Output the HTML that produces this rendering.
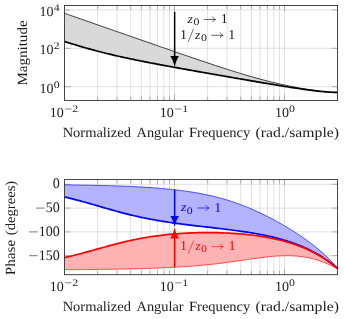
<!DOCTYPE html>
<html><head><meta charset="utf-8"><title>Bode plot</title>
<style>html,body{margin:0;padding:0;background:#fff;}svg{display:block;will-change:transform;opacity:0.999;}text{font-family:"Liberation Serif",serif;}</style>
</head><body>
<svg width="344" height="319" viewBox="0 0 344 319">
<rect width="344" height="319" fill="#fff"/>
<path d="M97.61 5.45V100.4M116.98 5.45V100.4M130.73 5.45V100.4M141.39 5.45V100.4M150.10 5.45V100.4M157.46 5.45V100.4M163.84 5.45V100.4M169.47 5.45V100.4M174.50 5.45V100.4M207.61 5.45V100.4M226.98 5.45V100.4M240.73 5.45V100.4M251.39 5.45V100.4M260.10 5.45V100.4M267.46 5.45V100.4M273.84 5.45V100.4M279.47 5.45V100.4M284.50 5.45V100.4M64.5 86.70H337.6M64.5 48.30H337.6M64.5 9.90H337.6" stroke="#d0d0d0" stroke-width="0.65" fill="none"/>
<path d="M97.61 5.45v3.9M97.61 100.4v-3.9M116.98 5.45v3.9M116.98 100.4v-3.9M130.73 5.45v3.9M130.73 100.4v-3.9M141.39 5.45v3.9M141.39 100.4v-3.9M150.10 5.45v3.9M150.10 100.4v-3.9M157.46 5.45v3.9M157.46 100.4v-3.9M163.84 5.45v3.9M163.84 100.4v-3.9M169.47 5.45v3.9M169.47 100.4v-3.9M174.50 5.45v5.9M174.50 100.4v-5.9M207.61 5.45v3.9M207.61 100.4v-3.9M226.98 5.45v3.9M226.98 100.4v-3.9M240.73 5.45v3.9M240.73 100.4v-3.9M251.39 5.45v3.9M251.39 100.4v-3.9M260.10 5.45v3.9M260.10 100.4v-3.9M267.46 5.45v3.9M267.46 100.4v-3.9M273.84 5.45v3.9M273.84 100.4v-3.9M279.47 5.45v3.9M279.47 100.4v-3.9M284.50 5.45v5.9M284.50 100.4v-5.9M64.5 86.70h5.9M337.6 86.70h-5.9M64.5 48.30h5.9M337.6 48.30h-5.9M64.5 9.90h5.9M337.6 9.90h-5.9" stroke="#777" stroke-width="0.5" fill="none"/>
<path d="M64.50 13.28 L66.46 13.97 L68.43 14.65 L70.39 15.34 L72.36 16.02 L74.32 16.71 L76.29 17.39 L78.25 18.08 L80.22 18.77 L82.18 19.45 L84.15 20.14 L86.11 20.82 L88.08 21.51 L90.04 22.19 L92.01 22.88 L93.97 23.57 L95.94 24.25 L97.90 24.94 L99.87 25.62 L101.83 26.31 L103.79 26.99 L105.76 27.68 L107.72 28.36 L109.69 29.05 L111.65 29.74 L113.62 30.42 L115.58 31.11 L117.55 31.79 L119.51 32.48 L121.48 33.16 L123.44 33.85 L125.41 34.53 L127.37 35.22 L129.34 35.90 L131.30 36.59 L133.27 37.27 L135.23 37.96 L137.20 38.64 L139.16 39.32 L141.13 40.01 L143.09 40.69 L145.05 41.38 L147.02 42.06 L148.98 42.74 L150.95 43.43 L152.91 44.11 L154.88 44.79 L156.84 45.47 L158.81 46.16 L160.77 46.84 L162.74 47.52 L164.70 48.20 L166.67 48.88 L168.63 49.56 L170.60 50.24 L172.56 50.92 L174.53 51.60 L176.49 52.28 L178.46 52.96 L180.42 53.63 L182.38 54.31 L184.35 54.98 L186.31 55.66 L188.28 56.33 L190.24 57.01 L192.21 57.68 L194.17 58.35 L196.14 59.02 L198.10 59.68 L200.07 60.35 L202.03 61.01 L204.00 61.68 L205.96 62.34 L207.93 63.00 L209.89 63.65 L211.86 64.31 L213.82 64.96 L215.79 65.61 L217.75 66.26 L219.72 66.90 L221.68 67.54 L223.64 68.18 L225.61 68.81 L227.57 69.44 L229.54 70.07 L231.50 70.69 L233.47 71.31 L235.43 71.92 L237.40 72.53 L239.36 73.13 L241.33 73.73 L243.29 74.32 L245.26 74.90 L247.22 75.48 L249.19 76.05 L251.15 76.62 L253.12 77.18 L255.08 77.73 L257.05 78.27 L259.01 78.81 L260.97 79.34 L262.94 79.86 L264.90 80.37 L266.87 80.88 L268.83 81.37 L270.80 81.86 L272.76 82.34 L274.73 82.81 L276.69 83.28 L278.66 83.73 L280.62 84.18 L282.59 84.61 L284.55 85.04 L286.52 85.46 L288.48 85.87 L290.45 86.27 L292.41 86.67 L294.38 87.05 L296.34 87.43 L298.31 87.79 L300.27 88.15 L302.23 88.50 L304.20 88.84 L306.16 89.17 L308.13 89.48 L310.09 89.79 L312.06 90.09 L314.02 90.37 L315.99 90.64 L317.95 90.90 L319.92 91.14 L321.88 91.37 L323.85 91.58 L325.81 91.78 L327.78 91.95 L329.74 92.11 L331.71 92.24 L333.67 92.34 L335.64 92.42 L337.60 92.47 L337.60 92.47 L335.64 92.43 L333.67 92.36 L331.71 92.26 L329.74 92.14 L327.78 92.01 L325.81 91.85 L323.85 91.68 L321.88 91.49 L319.92 91.29 L317.95 91.08 L315.99 90.85 L314.02 90.62 L312.06 90.38 L310.09 90.13 L308.13 89.87 L306.16 89.60 L304.20 89.33 L302.23 89.05 L300.27 88.77 L298.31 88.48 L296.34 88.19 L294.38 87.89 L292.41 87.59 L290.45 87.29 L288.48 86.98 L286.52 86.67 L284.55 86.36 L282.59 86.04 L280.62 85.72 L278.66 85.40 L276.69 85.08 L274.73 84.76 L272.76 84.44 L270.80 84.11 L268.83 83.78 L266.87 83.45 L264.90 83.12 L262.94 82.79 L260.97 82.46 L259.01 82.13 L257.05 81.79 L255.08 81.46 L253.12 81.12 L251.15 80.79 L249.19 80.45 L247.22 80.11 L245.26 79.77 L243.29 79.44 L241.33 79.10 L239.36 78.76 L237.40 78.42 L235.43 78.08 L233.47 77.74 L231.50 77.40 L229.54 77.06 L227.57 76.71 L225.61 76.37 L223.64 76.03 L221.68 75.69 L219.72 75.34 L217.75 75.00 L215.79 74.66 L213.82 74.31 L211.86 73.97 L209.89 73.62 L207.93 73.28 L205.96 72.93 L204.00 72.59 L202.03 72.24 L200.07 71.89 L198.10 71.55 L196.14 71.20 L194.17 70.85 L192.21 70.50 L190.24 70.15 L188.28 69.80 L186.31 69.45 L184.35 69.10 L182.38 68.75 L180.42 68.40 L178.46 68.04 L176.49 67.69 L174.53 67.33 L172.56 66.98 L170.60 66.62 L168.63 66.26 L166.67 65.90 L164.70 65.54 L162.74 65.18 L160.77 64.81 L158.81 64.44 L156.84 64.07 L154.88 63.70 L152.91 63.33 L150.95 62.96 L148.98 62.58 L147.02 62.20 L145.05 61.81 L143.09 61.43 L141.13 61.04 L139.16 60.64 L137.20 60.25 L135.23 59.85 L133.27 59.44 L131.30 59.03 L129.34 58.62 L127.37 58.20 L125.41 57.78 L123.44 57.35 L121.48 56.92 L119.51 56.48 L117.55 56.03 L115.58 55.58 L113.62 55.12 L111.65 54.66 L109.69 54.19 L107.72 53.71 L105.76 53.23 L103.79 52.74 L101.83 52.24 L99.87 51.73 L97.90 51.22 L95.94 50.70 L93.97 50.18 L92.01 49.65 L90.04 49.11 L88.08 48.56 L86.11 48.01 L84.15 47.45 L82.18 46.88 L80.22 46.31 L78.25 45.73 L76.29 45.14 L74.32 44.55 L72.36 43.96 L70.39 43.36 L68.43 42.75 L66.46 42.14 L64.50 41.52Z" fill="#d9d9d9"/>
<path d="M64.50 13.28 L66.46 13.97 L68.43 14.65 L70.39 15.34 L72.36 16.02 L74.32 16.71 L76.29 17.39 L78.25 18.08 L80.22 18.77 L82.18 19.45 L84.15 20.14 L86.11 20.82 L88.08 21.51 L90.04 22.19 L92.01 22.88 L93.97 23.57 L95.94 24.25 L97.90 24.94 L99.87 25.62 L101.83 26.31 L103.79 26.99 L105.76 27.68 L107.72 28.36 L109.69 29.05 L111.65 29.74 L113.62 30.42 L115.58 31.11 L117.55 31.79 L119.51 32.48 L121.48 33.16 L123.44 33.85 L125.41 34.53 L127.37 35.22 L129.34 35.90 L131.30 36.59 L133.27 37.27 L135.23 37.96 L137.20 38.64 L139.16 39.32 L141.13 40.01 L143.09 40.69 L145.05 41.38 L147.02 42.06 L148.98 42.74 L150.95 43.43 L152.91 44.11 L154.88 44.79 L156.84 45.47 L158.81 46.16 L160.77 46.84 L162.74 47.52 L164.70 48.20 L166.67 48.88 L168.63 49.56 L170.60 50.24 L172.56 50.92 L174.53 51.60 L176.49 52.28 L178.46 52.96 L180.42 53.63 L182.38 54.31 L184.35 54.98 L186.31 55.66 L188.28 56.33 L190.24 57.01 L192.21 57.68 L194.17 58.35 L196.14 59.02 L198.10 59.68 L200.07 60.35 L202.03 61.01 L204.00 61.68 L205.96 62.34 L207.93 63.00 L209.89 63.65 L211.86 64.31 L213.82 64.96 L215.79 65.61 L217.75 66.26 L219.72 66.90 L221.68 67.54 L223.64 68.18 L225.61 68.81 L227.57 69.44 L229.54 70.07 L231.50 70.69 L233.47 71.31 L235.43 71.92 L237.40 72.53 L239.36 73.13 L241.33 73.73 L243.29 74.32 L245.26 74.90 L247.22 75.48 L249.19 76.05 L251.15 76.62 L253.12 77.18 L255.08 77.73 L257.05 78.27 L259.01 78.81 L260.97 79.34 L262.94 79.86 L264.90 80.37 L266.87 80.88 L268.83 81.37 L270.80 81.86 L272.76 82.34 L274.73 82.81 L276.69 83.28 L278.66 83.73 L280.62 84.18 L282.59 84.61 L284.55 85.04 L286.52 85.46 L288.48 85.87 L290.45 86.27 L292.41 86.67 L294.38 87.05 L296.34 87.43 L298.31 87.79 L300.27 88.15 L302.23 88.50 L304.20 88.84 L306.16 89.17 L308.13 89.48 L310.09 89.79 L312.06 90.09 L314.02 90.37 L315.99 90.64 L317.95 90.90 L319.92 91.14 L321.88 91.37 L323.85 91.58 L325.81 91.78 L327.78 91.95 L329.74 92.11 L331.71 92.24 L333.67 92.34 L335.64 92.42 L337.60 92.47" stroke="#000" stroke-width="0.75" fill="none"/>
<path d="M64.50 41.52 L66.46 42.14 L68.43 42.75 L70.39 43.36 L72.36 43.96 L74.32 44.55 L76.29 45.14 L78.25 45.73 L80.22 46.31 L82.18 46.88 L84.15 47.45 L86.11 48.01 L88.08 48.56 L90.04 49.11 L92.01 49.65 L93.97 50.18 L95.94 50.70 L97.90 51.22 L99.87 51.73 L101.83 52.24 L103.79 52.74 L105.76 53.23 L107.72 53.71 L109.69 54.19 L111.65 54.66 L113.62 55.12 L115.58 55.58 L117.55 56.03 L119.51 56.48 L121.48 56.92 L123.44 57.35 L125.41 57.78 L127.37 58.20 L129.34 58.62 L131.30 59.03 L133.27 59.44 L135.23 59.85 L137.20 60.25 L139.16 60.64 L141.13 61.04 L143.09 61.43 L145.05 61.81 L147.02 62.20 L148.98 62.58 L150.95 62.96 L152.91 63.33 L154.88 63.70 L156.84 64.07 L158.81 64.44 L160.77 64.81 L162.74 65.18 L164.70 65.54 L166.67 65.90 L168.63 66.26 L170.60 66.62 L172.56 66.98 L174.53 67.33 L176.49 67.69 L178.46 68.04 L180.42 68.40 L182.38 68.75 L184.35 69.10 L186.31 69.45 L188.28 69.80 L190.24 70.15 L192.21 70.50 L194.17 70.85 L196.14 71.20 L198.10 71.55 L200.07 71.89 L202.03 72.24 L204.00 72.59 L205.96 72.93 L207.93 73.28 L209.89 73.62 L211.86 73.97 L213.82 74.31 L215.79 74.66 L217.75 75.00 L219.72 75.34 L221.68 75.69 L223.64 76.03 L225.61 76.37 L227.57 76.71 L229.54 77.06 L231.50 77.40 L233.47 77.74 L235.43 78.08 L237.40 78.42 L239.36 78.76 L241.33 79.10 L243.29 79.44 L245.26 79.77 L247.22 80.11 L249.19 80.45 L251.15 80.79 L253.12 81.12 L255.08 81.46 L257.05 81.79 L259.01 82.13 L260.97 82.46 L262.94 82.79 L264.90 83.12 L266.87 83.45 L268.83 83.78 L270.80 84.11 L272.76 84.44 L274.73 84.76 L276.69 85.08 L278.66 85.40 L280.62 85.72 L282.59 86.04 L284.55 86.36 L286.52 86.67 L288.48 86.98 L290.45 87.29 L292.41 87.59 L294.38 87.89 L296.34 88.19 L298.31 88.48 L300.27 88.77 L302.23 89.05 L304.20 89.33 L306.16 89.60 L308.13 89.87 L310.09 90.13 L312.06 90.38 L314.02 90.62 L315.99 90.85 L317.95 91.08 L319.92 91.29 L321.88 91.49 L323.85 91.68 L325.81 91.85 L327.78 92.01 L329.74 92.14 L331.71 92.26 L333.67 92.36 L335.64 92.43 L337.60 92.47" stroke="#000" stroke-width="1.7" fill="none" stroke-linejoin="round"/>
<rect x="64.5" y="5.45" width="273.1" height="94.95" fill="none" stroke="#262626" stroke-width="0.85"/>
<path d="M174.65 11.8V57.10" stroke="#000" stroke-width="1.5" fill="none"/><path d="M174.65 67.00C173.45 62.09 172.05 58.28 170.25 56.10L179.05 56.10C177.25 58.28 175.85 62.09 174.65 67.00Z" fill="#000"/>
<path d="M97.61 179.6V274.7M116.98 179.6V274.7M130.73 179.6V274.7M141.39 179.6V274.7M150.10 179.6V274.7M157.46 179.6V274.7M163.84 179.6V274.7M169.47 179.6V274.7M174.50 179.6V274.7M207.61 179.6V274.7M226.98 179.6V274.7M240.73 179.6V274.7M251.39 179.6V274.7M260.10 179.6V274.7M267.46 179.6V274.7M273.84 179.6V274.7M279.47 179.6V274.7M284.50 179.6V274.7M64.5 184.30H337.6M64.5 208.10H337.6M64.5 231.90H337.6M64.5 255.70H337.6" stroke="#d0d0d0" stroke-width="0.65" fill="none"/>
<path d="M97.61 179.6v3.9M97.61 274.7v-3.9M116.98 179.6v3.9M116.98 274.7v-3.9M130.73 179.6v3.9M130.73 274.7v-3.9M141.39 179.6v3.9M141.39 274.7v-3.9M150.10 179.6v3.9M150.10 274.7v-3.9M157.46 179.6v3.9M157.46 274.7v-3.9M163.84 179.6v3.9M163.84 274.7v-3.9M169.47 179.6v3.9M169.47 274.7v-3.9M174.50 179.6v5.9M174.50 274.7v-5.9M207.61 179.6v3.9M207.61 274.7v-3.9M226.98 179.6v3.9M226.98 274.7v-3.9M240.73 179.6v3.9M240.73 274.7v-3.9M251.39 179.6v3.9M251.39 274.7v-3.9M260.10 179.6v3.9M260.10 274.7v-3.9M267.46 179.6v3.9M267.46 274.7v-3.9M273.84 179.6v3.9M273.84 274.7v-3.9M279.47 179.6v3.9M279.47 274.7v-3.9M284.50 179.6v5.9M284.50 274.7v-5.9M64.5 184.30h5.9M337.6 184.30h-5.9M64.5 208.10h5.9M337.6 208.10h-5.9M64.5 231.90h5.9M337.6 231.90h-5.9M64.5 255.70h5.9M337.6 255.70h-5.9" stroke="#777" stroke-width="0.5" fill="none"/>
<path d="M64.50 184.85 L66.46 184.87 L68.43 184.89 L70.39 184.92 L72.36 184.94 L74.32 184.97 L76.29 185.00 L78.25 185.03 L80.22 185.06 L82.18 185.09 L84.15 185.12 L86.11 185.16 L88.08 185.19 L90.04 185.23 L92.01 185.27 L93.97 185.31 L95.94 185.35 L97.90 185.40 L99.87 185.44 L101.83 185.49 L103.79 185.54 L105.76 185.59 L107.72 185.65 L109.69 185.70 L111.65 185.76 L113.62 185.82 L115.58 185.89 L117.55 185.96 L119.51 186.02 L121.48 186.10 L123.44 186.17 L125.41 186.25 L127.37 186.33 L129.34 186.42 L131.30 186.51 L133.27 186.60 L135.23 186.70 L137.20 186.80 L139.16 186.90 L141.13 187.01 L143.09 187.12 L145.05 187.24 L147.02 187.36 L148.98 187.49 L150.95 187.63 L152.91 187.76 L154.88 187.91 L156.84 188.06 L158.81 188.22 L160.77 188.38 L162.74 188.55 L164.70 188.73 L166.67 188.91 L168.63 189.11 L170.60 189.31 L172.56 189.51 L174.53 189.73 L176.49 189.96 L178.46 190.19 L180.42 190.44 L182.38 190.69 L184.35 190.95 L186.31 191.23 L188.28 191.51 L190.24 191.81 L192.21 192.12 L194.17 192.44 L196.14 192.78 L198.10 193.12 L200.07 193.48 L202.03 193.86 L204.00 194.25 L205.96 194.65 L207.93 195.07 L209.89 195.50 L211.86 195.95 L213.82 196.42 L215.79 196.90 L217.75 197.40 L219.72 197.92 L221.68 198.46 L223.64 199.01 L225.61 199.59 L227.57 200.18 L229.54 200.79 L231.50 201.42 L233.47 202.08 L235.43 202.75 L237.40 203.44 L239.36 204.15 L241.33 204.88 L243.29 205.63 L245.26 206.41 L247.22 207.20 L249.19 208.01 L251.15 208.84 L253.12 209.70 L255.08 210.57 L257.05 211.46 L259.01 212.37 L260.97 213.30 L262.94 214.25 L264.90 215.22 L266.87 216.20 L268.83 217.21 L270.80 218.23 L272.76 219.26 L274.73 220.32 L276.69 221.39 L278.66 222.49 L280.62 223.59 L282.59 224.72 L284.55 225.87 L286.52 227.03 L288.48 228.21 L290.45 229.41 L292.41 230.64 L294.38 231.88 L296.34 233.15 L298.31 234.43 L300.27 235.75 L302.23 237.09 L304.20 238.45 L306.16 239.85 L308.13 241.28 L310.09 242.74 L312.06 244.23 L314.02 245.76 L315.99 247.33 L317.95 248.94 L319.92 250.60 L321.88 252.31 L323.85 254.06 L325.81 255.87 L327.78 257.74 L329.74 259.67 L331.71 261.67 L333.67 263.74 L335.64 265.88 L337.60 268.11 L337.60 268.57 L335.64 266.88 L333.67 265.26 L331.71 263.71 L329.74 262.21 L327.78 260.78 L325.81 259.41 L323.85 258.09 L321.88 256.82 L319.92 255.60 L317.95 254.43 L315.99 253.31 L314.02 252.23 L312.06 251.20 L310.09 250.20 L308.13 249.24 L306.16 248.33 L304.20 247.44 L302.23 246.60 L300.27 245.78 L298.31 245.00 L296.34 244.24 L294.38 243.52 L292.41 242.82 L290.45 242.15 L288.48 241.51 L286.52 240.88 L284.55 240.29 L282.59 239.71 L280.62 239.16 L278.66 238.63 L276.69 238.11 L274.73 237.62 L272.76 237.14 L270.80 236.68 L268.83 236.23 L266.87 235.80 L264.90 235.39 L262.94 234.99 L260.97 234.60 L259.01 234.23 L257.05 233.86 L255.08 233.51 L253.12 233.17 L251.15 232.84 L249.19 232.52 L247.22 232.21 L245.26 231.91 L243.29 231.61 L241.33 231.32 L239.36 231.04 L237.40 230.77 L235.43 230.50 L233.47 230.24 L231.50 229.98 L229.54 229.73 L227.57 229.48 L225.61 229.24 L223.64 229.00 L221.68 228.77 L219.72 228.53 L217.75 228.30 L215.79 228.07 L213.82 227.84 L211.86 227.62 L209.89 227.39 L207.93 227.17 L205.96 226.94 L204.00 226.72 L202.03 226.49 L200.07 226.27 L198.10 226.04 L196.14 225.81 L194.17 225.58 L192.21 225.34 L190.24 225.11 L188.28 224.87 L186.31 224.62 L184.35 224.38 L182.38 224.13 L180.42 223.87 L178.46 223.61 L176.49 223.35 L174.53 223.08 L172.56 222.80 L170.60 222.52 L168.63 222.23 L166.67 221.93 L164.70 221.62 L162.74 221.31 L160.77 220.99 L158.81 220.66 L156.84 220.33 L154.88 219.98 L152.91 219.63 L150.95 219.26 L148.98 218.89 L147.02 218.51 L145.05 218.11 L143.09 217.71 L141.13 217.30 L139.16 216.87 L137.20 216.44 L135.23 215.99 L133.27 215.54 L131.30 215.07 L129.34 214.59 L127.37 214.11 L125.41 213.61 L123.44 213.11 L121.48 212.59 L119.51 212.07 L117.55 211.54 L115.58 211.00 L113.62 210.46 L111.65 209.91 L109.69 209.35 L107.72 208.79 L105.76 208.22 L103.79 207.65 L101.83 207.08 L99.87 206.51 L97.90 205.94 L95.94 205.37 L93.97 204.80 L92.01 204.23 L90.04 203.67 L88.08 203.11 L86.11 202.55 L84.15 202.00 L82.18 201.46 L80.22 200.92 L78.25 200.39 L76.29 199.88 L74.32 199.37 L72.36 198.87 L70.39 198.38 L68.43 197.90 L66.46 197.43 L64.50 196.97Z" fill="#b3b3ff"/>
<path d="M64.50 269.71 L66.46 269.70 L68.43 269.68 L70.39 269.67 L72.36 269.66 L74.32 269.65 L76.29 269.63 L78.25 269.62 L80.22 269.60 L82.18 269.59 L84.15 269.57 L86.11 269.55 L88.08 269.53 L90.04 269.51 L92.01 269.50 L93.97 269.47 L95.94 269.45 L97.90 269.43 L99.87 269.41 L101.83 269.38 L103.79 269.36 L105.76 269.33 L107.72 269.31 L109.69 269.28 L111.65 269.25 L113.62 269.22 L115.58 269.19 L117.55 269.15 L119.51 269.12 L121.48 269.08 L123.44 269.04 L125.41 269.01 L127.37 268.96 L129.34 268.92 L131.30 268.88 L133.27 268.83 L135.23 268.78 L137.20 268.73 L139.16 268.68 L141.13 268.63 L143.09 268.57 L145.05 268.51 L147.02 268.45 L148.98 268.39 L150.95 268.32 L152.91 268.25 L154.88 268.18 L156.84 268.10 L158.81 268.03 L160.77 267.95 L162.74 267.86 L164.70 267.77 L166.67 267.68 L168.63 267.59 L170.60 267.49 L172.56 267.39 L174.53 267.28 L176.49 267.17 L178.46 267.05 L180.42 266.93 L182.38 266.81 L184.35 266.68 L186.31 266.54 L188.28 266.40 L190.24 266.26 L192.21 266.11 L194.17 265.95 L196.14 265.79 L198.10 265.63 L200.07 265.45 L202.03 265.27 L204.00 265.09 L205.96 264.90 L207.93 264.70 L209.89 264.50 L211.86 264.29 L213.82 264.07 L215.79 263.85 L217.75 263.62 L219.72 263.38 L221.68 263.14 L223.64 262.90 L225.61 262.64 L227.57 262.38 L229.54 262.12 L231.50 261.85 L233.47 261.58 L235.43 261.30 L237.40 261.02 L239.36 260.73 L241.33 260.45 L243.29 260.16 L245.26 259.87 L247.22 259.58 L249.19 259.29 L251.15 259.00 L253.12 258.72 L255.08 258.44 L257.05 258.17 L259.01 257.90 L260.97 257.65 L262.94 257.40 L264.90 257.16 L266.87 256.93 L268.83 256.72 L270.80 256.53 L272.76 256.35 L274.73 256.19 L276.69 256.05 L278.66 255.93 L280.62 255.83 L282.59 255.76 L284.55 255.72 L286.52 255.70 L288.48 255.71 L290.45 255.75 L292.41 255.83 L294.38 255.94 L296.34 256.08 L298.31 256.26 L300.27 256.47 L302.23 256.72 L304.20 257.02 L306.16 257.35 L308.13 257.73 L310.09 258.15 L312.06 258.61 L314.02 259.12 L315.99 259.67 L317.95 260.27 L319.92 260.92 L321.88 261.62 L323.85 262.37 L325.81 263.17 L327.78 264.02 L329.74 264.92 L331.71 265.87 L333.67 266.88 L335.64 267.94 L337.60 269.05 L337.60 268.59 L335.64 266.94 L333.67 265.36 L331.71 263.83 L329.74 262.37 L327.78 260.97 L325.81 259.63 L323.85 258.34 L321.88 257.10 L319.92 255.92 L317.95 254.78 L315.99 253.69 L314.02 252.64 L312.06 251.64 L310.09 250.68 L308.13 249.76 L306.16 248.88 L304.20 248.03 L302.23 247.22 L300.27 246.44 L298.31 245.69 L296.34 244.98 L294.38 244.30 L292.41 243.64 L290.45 243.02 L288.48 242.42 L286.52 241.84 L284.55 241.29 L282.59 240.77 L280.62 240.27 L278.66 239.79 L276.69 239.33 L274.73 238.89 L272.76 238.47 L270.80 238.08 L268.83 237.70 L266.87 237.33 L264.90 236.99 L262.94 236.66 L260.97 236.35 L259.01 236.05 L257.05 235.77 L255.08 235.50 L253.12 235.25 L251.15 235.01 L249.19 234.78 L247.22 234.57 L245.26 234.37 L243.29 234.18 L241.33 234.00 L239.36 233.84 L237.40 233.69 L235.43 233.54 L233.47 233.41 L231.50 233.29 L229.54 233.18 L227.57 233.08 L225.61 232.99 L223.64 232.91 L221.68 232.84 L219.72 232.78 L217.75 232.72 L215.79 232.68 L213.82 232.65 L211.86 232.62 L209.89 232.61 L207.93 232.60 L205.96 232.61 L204.00 232.62 L202.03 232.64 L200.07 232.67 L198.10 232.71 L196.14 232.76 L194.17 232.82 L192.21 232.89 L190.24 232.96 L188.28 233.05 L186.31 233.15 L184.35 233.25 L182.38 233.37 L180.42 233.50 L178.46 233.63 L176.49 233.78 L174.53 233.93 L172.56 234.10 L170.60 234.28 L168.63 234.47 L166.67 234.67 L164.70 234.88 L162.74 235.10 L160.77 235.33 L158.81 235.58 L156.84 235.84 L154.88 236.11 L152.91 236.39 L150.95 236.68 L148.98 236.99 L147.02 237.31 L145.05 237.64 L143.09 237.98 L141.13 238.34 L139.16 238.71 L137.20 239.09 L135.23 239.49 L133.27 239.89 L131.30 240.31 L129.34 240.75 L127.37 241.19 L125.41 241.64 L123.44 242.11 L121.48 242.59 L119.51 243.07 L117.55 243.57 L115.58 244.07 L113.62 244.58 L111.65 245.11 L109.69 245.63 L107.72 246.17 L105.76 246.70 L103.79 247.25 L101.83 247.79 L99.87 248.34 L97.90 248.89 L95.94 249.44 L93.97 249.99 L92.01 250.53 L90.04 251.08 L88.08 251.62 L86.11 252.16 L84.15 252.69 L82.18 253.22 L80.22 253.74 L78.25 254.25 L76.29 254.75 L74.32 255.25 L72.36 255.73 L70.39 256.21 L68.43 256.68 L66.46 257.13 L64.50 257.58Z" fill="#ffb3b3"/>
<path d="M64.50 184.85 L66.46 184.87 L68.43 184.89 L70.39 184.92 L72.36 184.94 L74.32 184.97 L76.29 185.00 L78.25 185.03 L80.22 185.06 L82.18 185.09 L84.15 185.12 L86.11 185.16 L88.08 185.19 L90.04 185.23 L92.01 185.27 L93.97 185.31 L95.94 185.35 L97.90 185.40 L99.87 185.44 L101.83 185.49 L103.79 185.54 L105.76 185.59 L107.72 185.65 L109.69 185.70 L111.65 185.76 L113.62 185.82 L115.58 185.89 L117.55 185.96 L119.51 186.02 L121.48 186.10 L123.44 186.17 L125.41 186.25 L127.37 186.33 L129.34 186.42 L131.30 186.51 L133.27 186.60 L135.23 186.70 L137.20 186.80 L139.16 186.90 L141.13 187.01 L143.09 187.12 L145.05 187.24 L147.02 187.36 L148.98 187.49 L150.95 187.63 L152.91 187.76 L154.88 187.91 L156.84 188.06 L158.81 188.22 L160.77 188.38 L162.74 188.55 L164.70 188.73 L166.67 188.91 L168.63 189.11 L170.60 189.31 L172.56 189.51 L174.53 189.73 L176.49 189.96 L178.46 190.19 L180.42 190.44 L182.38 190.69 L184.35 190.95 L186.31 191.23 L188.28 191.51 L190.24 191.81 L192.21 192.12 L194.17 192.44 L196.14 192.78 L198.10 193.12 L200.07 193.48 L202.03 193.86 L204.00 194.25 L205.96 194.65 L207.93 195.07 L209.89 195.50 L211.86 195.95 L213.82 196.42 L215.79 196.90 L217.75 197.40 L219.72 197.92 L221.68 198.46 L223.64 199.01 L225.61 199.59 L227.57 200.18 L229.54 200.79 L231.50 201.42 L233.47 202.08 L235.43 202.75 L237.40 203.44 L239.36 204.15 L241.33 204.88 L243.29 205.63 L245.26 206.41 L247.22 207.20 L249.19 208.01 L251.15 208.84 L253.12 209.70 L255.08 210.57 L257.05 211.46 L259.01 212.37 L260.97 213.30 L262.94 214.25 L264.90 215.22 L266.87 216.20 L268.83 217.21 L270.80 218.23 L272.76 219.26 L274.73 220.32 L276.69 221.39 L278.66 222.49 L280.62 223.59 L282.59 224.72 L284.55 225.87 L286.52 227.03 L288.48 228.21 L290.45 229.41 L292.41 230.64 L294.38 231.88 L296.34 233.15 L298.31 234.43 L300.27 235.75 L302.23 237.09 L304.20 238.45 L306.16 239.85 L308.13 241.28 L310.09 242.74 L312.06 244.23 L314.02 245.76 L315.99 247.33 L317.95 248.94 L319.92 250.60 L321.88 252.31 L323.85 254.06 L325.81 255.87 L327.78 257.74 L329.74 259.67 L331.71 261.67 L333.67 263.74 L335.64 265.88 L337.60 268.11" stroke="#0000ff" stroke-width="0.65" fill="none"/>
<path d="M64.50 269.71 L66.46 269.70 L68.43 269.68 L70.39 269.67 L72.36 269.66 L74.32 269.65 L76.29 269.63 L78.25 269.62 L80.22 269.60 L82.18 269.59 L84.15 269.57 L86.11 269.55 L88.08 269.53 L90.04 269.51 L92.01 269.50 L93.97 269.47 L95.94 269.45 L97.90 269.43 L99.87 269.41 L101.83 269.38 L103.79 269.36 L105.76 269.33 L107.72 269.31 L109.69 269.28 L111.65 269.25 L113.62 269.22 L115.58 269.19 L117.55 269.15 L119.51 269.12 L121.48 269.08 L123.44 269.04 L125.41 269.01 L127.37 268.96 L129.34 268.92 L131.30 268.88 L133.27 268.83 L135.23 268.78 L137.20 268.73 L139.16 268.68 L141.13 268.63 L143.09 268.57 L145.05 268.51 L147.02 268.45 L148.98 268.39 L150.95 268.32 L152.91 268.25 L154.88 268.18 L156.84 268.10 L158.81 268.03 L160.77 267.95 L162.74 267.86 L164.70 267.77 L166.67 267.68 L168.63 267.59 L170.60 267.49 L172.56 267.39 L174.53 267.28 L176.49 267.17 L178.46 267.05 L180.42 266.93 L182.38 266.81 L184.35 266.68 L186.31 266.54 L188.28 266.40 L190.24 266.26 L192.21 266.11 L194.17 265.95 L196.14 265.79 L198.10 265.63 L200.07 265.45 L202.03 265.27 L204.00 265.09 L205.96 264.90 L207.93 264.70 L209.89 264.50 L211.86 264.29 L213.82 264.07 L215.79 263.85 L217.75 263.62 L219.72 263.38 L221.68 263.14 L223.64 262.90 L225.61 262.64 L227.57 262.38 L229.54 262.12 L231.50 261.85 L233.47 261.58 L235.43 261.30 L237.40 261.02 L239.36 260.73 L241.33 260.45 L243.29 260.16 L245.26 259.87 L247.22 259.58 L249.19 259.29 L251.15 259.00 L253.12 258.72 L255.08 258.44 L257.05 258.17 L259.01 257.90 L260.97 257.65 L262.94 257.40 L264.90 257.16 L266.87 256.93 L268.83 256.72 L270.80 256.53 L272.76 256.35 L274.73 256.19 L276.69 256.05 L278.66 255.93 L280.62 255.83 L282.59 255.76 L284.55 255.72 L286.52 255.70 L288.48 255.71 L290.45 255.75 L292.41 255.83 L294.38 255.94 L296.34 256.08 L298.31 256.26 L300.27 256.47 L302.23 256.72 L304.20 257.02 L306.16 257.35 L308.13 257.73 L310.09 258.15 L312.06 258.61 L314.02 259.12 L315.99 259.67 L317.95 260.27 L319.92 260.92 L321.88 261.62 L323.85 262.37 L325.81 263.17 L327.78 264.02 L329.74 264.92 L331.71 265.87 L333.67 266.88 L335.64 267.94 L337.60 269.05" stroke="#ff0000" stroke-width="0.65" fill="none"/>
<path d="M64.50 196.97 L66.46 197.43 L68.43 197.90 L70.39 198.38 L72.36 198.87 L74.32 199.37 L76.29 199.88 L78.25 200.39 L80.22 200.92 L82.18 201.46 L84.15 202.00 L86.11 202.55 L88.08 203.11 L90.04 203.67 L92.01 204.23 L93.97 204.80 L95.94 205.37 L97.90 205.94 L99.87 206.51 L101.83 207.08 L103.79 207.65 L105.76 208.22 L107.72 208.79 L109.69 209.35 L111.65 209.91 L113.62 210.46 L115.58 211.00 L117.55 211.54 L119.51 212.07 L121.48 212.59 L123.44 213.11 L125.41 213.61 L127.37 214.11 L129.34 214.59 L131.30 215.07 L133.27 215.54 L135.23 215.99 L137.20 216.44 L139.16 216.87 L141.13 217.30 L143.09 217.71 L145.05 218.11 L147.02 218.51 L148.98 218.89 L150.95 219.26 L152.91 219.63 L154.88 219.98 L156.84 220.33 L158.81 220.66 L160.77 220.99 L162.74 221.31 L164.70 221.62 L166.67 221.93 L168.63 222.23 L170.60 222.52 L172.56 222.80 L174.53 223.08 L176.49 223.35 L178.46 223.61 L180.42 223.87 L182.38 224.13 L184.35 224.38 L186.31 224.62 L188.28 224.87 L190.24 225.11 L192.21 225.34 L194.17 225.58 L196.14 225.81 L198.10 226.04 L200.07 226.27 L202.03 226.49 L204.00 226.72 L205.96 226.94 L207.93 227.17 L209.89 227.39 L211.86 227.62 L213.82 227.84 L215.79 228.07 L217.75 228.30 L219.72 228.53 L221.68 228.77 L223.64 229.00 L225.61 229.24 L227.57 229.48 L229.54 229.73 L231.50 229.98 L233.47 230.24 L235.43 230.50 L237.40 230.77 L239.36 231.04 L241.33 231.32 L243.29 231.61 L245.26 231.91 L247.22 232.21 L249.19 232.52 L251.15 232.84 L253.12 233.17 L255.08 233.51 L257.05 233.86 L259.01 234.23 L260.97 234.60 L262.94 234.99 L264.90 235.39 L266.87 235.80 L268.83 236.23 L270.80 236.68 L272.76 237.14 L274.73 237.62 L276.69 238.11 L278.66 238.63 L280.62 239.16 L282.59 239.71 L284.55 240.29 L286.52 240.88 L288.48 241.51 L290.45 242.15 L292.41 242.82 L294.38 243.52 L296.34 244.24 L298.31 245.00 L300.27 245.78 L302.23 246.60 L304.20 247.44 L306.16 248.33 L308.13 249.24 L310.09 250.20 L312.06 251.20 L314.02 252.23 L315.99 253.31 L317.95 254.43 L319.92 255.60 L321.88 256.82 L323.85 258.09 L325.81 259.41 L327.78 260.78 L329.74 262.21 L331.71 263.71 L333.67 265.26 L335.64 266.88 L337.60 268.57" stroke="#0000ff" stroke-width="1.7" fill="none"/>
<path d="M64.50 257.58 L66.46 257.13 L68.43 256.68 L70.39 256.21 L72.36 255.73 L74.32 255.25 L76.29 254.75 L78.25 254.25 L80.22 253.74 L82.18 253.22 L84.15 252.69 L86.11 252.16 L88.08 251.62 L90.04 251.08 L92.01 250.53 L93.97 249.99 L95.94 249.44 L97.90 248.89 L99.87 248.34 L101.83 247.79 L103.79 247.25 L105.76 246.70 L107.72 246.17 L109.69 245.63 L111.65 245.11 L113.62 244.58 L115.58 244.07 L117.55 243.57 L119.51 243.07 L121.48 242.59 L123.44 242.11 L125.41 241.64 L127.37 241.19 L129.34 240.75 L131.30 240.31 L133.27 239.89 L135.23 239.49 L137.20 239.09 L139.16 238.71 L141.13 238.34 L143.09 237.98 L145.05 237.64 L147.02 237.31 L148.98 236.99 L150.95 236.68 L152.91 236.39 L154.88 236.11 L156.84 235.84 L158.81 235.58 L160.77 235.33 L162.74 235.10 L164.70 234.88 L166.67 234.67 L168.63 234.47 L170.60 234.28 L172.56 234.10 L174.53 233.93 L176.49 233.78 L178.46 233.63 L180.42 233.50 L182.38 233.37 L184.35 233.25 L186.31 233.15 L188.28 233.05 L190.24 232.96 L192.21 232.89 L194.17 232.82 L196.14 232.76 L198.10 232.71 L200.07 232.67 L202.03 232.64 L204.00 232.62 L205.96 232.61 L207.93 232.60 L209.89 232.61 L211.86 232.62 L213.82 232.65 L215.79 232.68 L217.75 232.72 L219.72 232.78 L221.68 232.84 L223.64 232.91 L225.61 232.99 L227.57 233.08 L229.54 233.18 L231.50 233.29 L233.47 233.41 L235.43 233.54 L237.40 233.69 L239.36 233.84 L241.33 234.00 L243.29 234.18 L245.26 234.37 L247.22 234.57 L249.19 234.78 L251.15 235.01 L253.12 235.25 L255.08 235.50 L257.05 235.77 L259.01 236.05 L260.97 236.35 L262.94 236.66 L264.90 236.99 L266.87 237.33 L268.83 237.70 L270.80 238.08 L272.76 238.47 L274.73 238.89 L276.69 239.33 L278.66 239.79 L280.62 240.27 L282.59 240.77 L284.55 241.29 L286.52 241.84 L288.48 242.42 L290.45 243.02 L292.41 243.64 L294.38 244.30 L296.34 244.98 L298.31 245.69 L300.27 246.44 L302.23 247.22 L304.20 248.03 L306.16 248.88 L308.13 249.76 L310.09 250.68 L312.06 251.64 L314.02 252.64 L315.99 253.69 L317.95 254.78 L319.92 255.92 L321.88 257.10 L323.85 258.34 L325.81 259.63 L327.78 260.97 L329.74 262.37 L331.71 263.83 L333.67 265.36 L335.64 266.94 L337.60 268.59" stroke="#ff0000" stroke-width="1.7" fill="none"/>
<rect x="64.5" y="179.6" width="273.1" height="95.1" fill="none" stroke="#262626" stroke-width="0.85"/>
<path d="M174.65 189.72762134096473V217.00" stroke="#0000ff" stroke-width="1.5" fill="none"/><path d="M174.65 226.90C173.45 222.00 172.05 218.18 170.25 216.00L179.05 216.00C177.25 218.18 175.85 222.00 174.65 226.90Z" fill="#0000ff"/>
<path d="M174.65 267.27965776385804V237.50" stroke="#ff0000" stroke-width="1.5" fill="none"/><path d="M174.65 227.60C173.45 232.50 172.05 236.32 170.25 238.50L179.05 238.50C177.25 236.32 175.85 232.50 174.65 227.60Z" fill="#ff0000"/>
<g font-family="'Liberation Serif', serif" text-rendering="geometricPrecision">
<text x="39.60" y="92.50" font-size="13.9" fill="#1c1c1c" textLength="14.00" lengthAdjust="spacingAndGlyphs">10</text><text x="53.80" y="87.60" font-size="10.0" fill="#1c1c1c" textLength="5.90" lengthAdjust="spacingAndGlyphs">0</text>
<text x="39.60" y="54.10" font-size="13.9" fill="#1c1c1c" textLength="14.00" lengthAdjust="spacingAndGlyphs">10</text><text x="53.80" y="49.20" font-size="10.0" fill="#1c1c1c" textLength="5.90" lengthAdjust="spacingAndGlyphs">2</text>
<text x="39.60" y="15.70" font-size="13.9" fill="#1c1c1c" textLength="14.00" lengthAdjust="spacingAndGlyphs">10</text><text x="53.80" y="10.80" font-size="10.0" fill="#1c1c1c" textLength="5.90" lengthAdjust="spacingAndGlyphs">4</text>
<text x="49.70" y="116.90" font-size="13.9" fill="#1c1c1c" textLength="14.00" lengthAdjust="spacingAndGlyphs">10</text><path d="M65.20 109.00H71.50" stroke="#1c1c1c" stroke-width="0.55" fill="none"/><text x="72.20" y="112.00" font-size="10.0" fill="#1c1c1c" textLength="5.90" lengthAdjust="spacingAndGlyphs">2</text>
<text x="49.70" y="290.70" font-size="13.9" fill="#1c1c1c" textLength="14.00" lengthAdjust="spacingAndGlyphs">10</text><path d="M65.20 282.80H71.50" stroke="#1c1c1c" stroke-width="0.55" fill="none"/><text x="72.20" y="285.80" font-size="10.0" fill="#1c1c1c" textLength="5.90" lengthAdjust="spacingAndGlyphs">2</text>
<text x="159.70" y="116.90" font-size="13.9" fill="#1c1c1c" textLength="14.00" lengthAdjust="spacingAndGlyphs">10</text><path d="M175.20 109.00H181.50" stroke="#1c1c1c" stroke-width="0.55" fill="none"/><text x="182.20" y="112.00" font-size="10.0" fill="#1c1c1c" textLength="5.90" lengthAdjust="spacingAndGlyphs">1</text>
<text x="159.70" y="290.70" font-size="13.9" fill="#1c1c1c" textLength="14.00" lengthAdjust="spacingAndGlyphs">10</text><path d="M175.20 282.80H181.50" stroke="#1c1c1c" stroke-width="0.55" fill="none"/><text x="182.20" y="285.80" font-size="10.0" fill="#1c1c1c" textLength="5.90" lengthAdjust="spacingAndGlyphs">1</text>
<text x="274.90" y="116.90" font-size="13.9" fill="#1c1c1c" textLength="14.00" lengthAdjust="spacingAndGlyphs">10</text><text x="289.10" y="112.00" font-size="10.0" fill="#1c1c1c" textLength="5.90" lengthAdjust="spacingAndGlyphs">0</text>
<text x="274.90" y="290.70" font-size="13.9" fill="#1c1c1c" textLength="14.00" lengthAdjust="spacingAndGlyphs">10</text><text x="289.10" y="285.80" font-size="10.0" fill="#1c1c1c" textLength="5.90" lengthAdjust="spacingAndGlyphs">0</text>
<text x="52.70" y="188.40" font-size="14.5" fill="#1c1c1c" textLength="7.00" lengthAdjust="spacingAndGlyphs">0</text>
<text x="45.70" y="212.20" font-size="14.5" fill="#1c1c1c" textLength="14.00" lengthAdjust="spacingAndGlyphs">50</text>
<path d="M36.10 208.10H44.70" stroke="#1c1c1c" stroke-width="0.6" fill="none"/>
<text x="38.70" y="236.00" font-size="14.5" fill="#1c1c1c" textLength="21.00" lengthAdjust="spacingAndGlyphs">100</text>
<path d="M29.10 231.90H37.70" stroke="#1c1c1c" stroke-width="0.6" fill="none"/>
<text x="38.70" y="259.80" font-size="14.5" fill="#1c1c1c" textLength="21.00" lengthAdjust="spacingAndGlyphs">150</text>
<path d="M29.10 255.70H37.70" stroke="#1c1c1c" stroke-width="0.6" fill="none"/>
<text x="62.70" y="136.60" font-size="14.0" fill="#1c1c1c" textLength="68.20" lengthAdjust="spacingAndGlyphs">Normalized</text>
<text x="136.60" y="136.60" font-size="14.0" fill="#1c1c1c" textLength="47.00" lengthAdjust="spacingAndGlyphs">Angular</text>
<text x="189.00" y="136.60" font-size="14.0" fill="#1c1c1c" textLength="61.30" lengthAdjust="spacingAndGlyphs">Frequency</text>
<text x="255.60" y="136.60" font-size="14.0" fill="#1c1c1c" textLength="83.40" lengthAdjust="spacingAndGlyphs">(rad./sample)</text>
<text x="62.70" y="310.50" font-size="14.0" fill="#1c1c1c" textLength="68.20" lengthAdjust="spacingAndGlyphs">Normalized</text>
<text x="136.60" y="310.50" font-size="14.0" fill="#1c1c1c" textLength="47.00" lengthAdjust="spacingAndGlyphs">Angular</text>
<text x="189.00" y="310.50" font-size="14.0" fill="#1c1c1c" textLength="61.30" lengthAdjust="spacingAndGlyphs">Frequency</text>
<text x="255.60" y="310.50" font-size="14.0" fill="#1c1c1c" textLength="83.40" lengthAdjust="spacingAndGlyphs">(rad./sample)</text>
<text transform="translate(27.0,85.6) rotate(-90)" font-size="14.0" fill="#1c1c1c" textLength="65.2" lengthAdjust="spacingAndGlyphs">Magnitude</text>
<text transform="translate(15.0,275.3) rotate(-90)" font-size="14.0" fill="#1c1c1c" textLength="35.5" lengthAdjust="spacingAndGlyphs">Phase</text>
<text transform="translate(15.0,235.2) rotate(-90)" font-size="14.0" fill="#1c1c1c" textLength="54.4" lengthAdjust="spacingAndGlyphs">(degrees)</text>
<text x="187.60" y="22.90" font-size="12.4" fill="#1c1c1c" textLength="5.40" lengthAdjust="spacingAndGlyphs" font-style="italic">z</text><text x="193.40" y="25.00" font-size="10.0" fill="#1c1c1c" textLength="5.90" lengthAdjust="spacingAndGlyphs">0</text><path d="M203.70 19.50H215.20" stroke="#1c1c1c" stroke-width="0.65" fill="none"/><path d="M212.60 16.70C213.10 18.40 214.40 19.20 215.70 19.50C214.40 19.80 213.10 20.60 212.60 22.30" stroke="#1c1c1c" stroke-width="0.65" fill="none"/><text x="220.80" y="23.10" font-size="13.6" fill="#1c1c1c" textLength="7.00" lengthAdjust="spacingAndGlyphs">1</text>
<text x="179.90" y="38.90" font-size="13.6" fill="#1c1c1c" textLength="7.00" lengthAdjust="spacingAndGlyphs">1</text><path d="M193.50 29.10L188.00 42.10" stroke="#1c1c1c" stroke-width="0.6"/><text x="195.10" y="38.70" font-size="12.4" fill="#1c1c1c" textLength="5.40" lengthAdjust="spacingAndGlyphs" font-style="italic">z</text><text x="200.90" y="40.80" font-size="10.0" fill="#1c1c1c" textLength="5.90" lengthAdjust="spacingAndGlyphs">0</text><path d="M211.20 35.30H222.70" stroke="#1c1c1c" stroke-width="0.65" fill="none"/><path d="M220.10 32.50C220.60 34.20 221.90 35.00 223.20 35.30C221.90 35.60 220.60 36.40 220.10 38.10" stroke="#1c1c1c" stroke-width="0.65" fill="none"/><text x="228.30" y="38.90" font-size="13.6" fill="#1c1c1c" textLength="7.00" lengthAdjust="spacingAndGlyphs">1</text>
<text x="181.00" y="211.40" font-size="12.4" fill="#0000ff" textLength="5.40" lengthAdjust="spacingAndGlyphs" font-style="italic">z</text><text x="186.80" y="213.50" font-size="10.0" fill="#0000ff" textLength="5.90" lengthAdjust="spacingAndGlyphs">0</text><path d="M197.10 208.00H208.60" stroke="#0000ff" stroke-width="0.65" fill="none"/><path d="M206.00 205.20C206.50 206.90 207.80 207.70 209.10 208.00C207.80 208.30 206.50 209.10 206.00 210.80" stroke="#0000ff" stroke-width="0.65" fill="none"/><text x="214.20" y="211.60" font-size="13.6" fill="#0000ff" textLength="7.00" lengthAdjust="spacingAndGlyphs">1</text>
<text x="180.10" y="250.20" font-size="13.6" fill="#ff0000" textLength="7.00" lengthAdjust="spacingAndGlyphs">1</text><path d="M193.70 240.40L188.20 253.40" stroke="#ff0000" stroke-width="0.6"/><text x="195.30" y="250.00" font-size="12.4" fill="#ff0000" textLength="5.40" lengthAdjust="spacingAndGlyphs" font-style="italic">z</text><text x="201.10" y="252.10" font-size="10.0" fill="#ff0000" textLength="5.90" lengthAdjust="spacingAndGlyphs">0</text><path d="M211.40 246.60H222.90" stroke="#ff0000" stroke-width="0.65" fill="none"/><path d="M220.30 243.80C220.80 245.50 222.10 246.30 223.40 246.60C222.10 246.90 220.80 247.70 220.30 249.40" stroke="#ff0000" stroke-width="0.65" fill="none"/><text x="228.50" y="250.20" font-size="13.6" fill="#ff0000" textLength="7.00" lengthAdjust="spacingAndGlyphs">1</text>
</g>
</svg>
</body></html>
